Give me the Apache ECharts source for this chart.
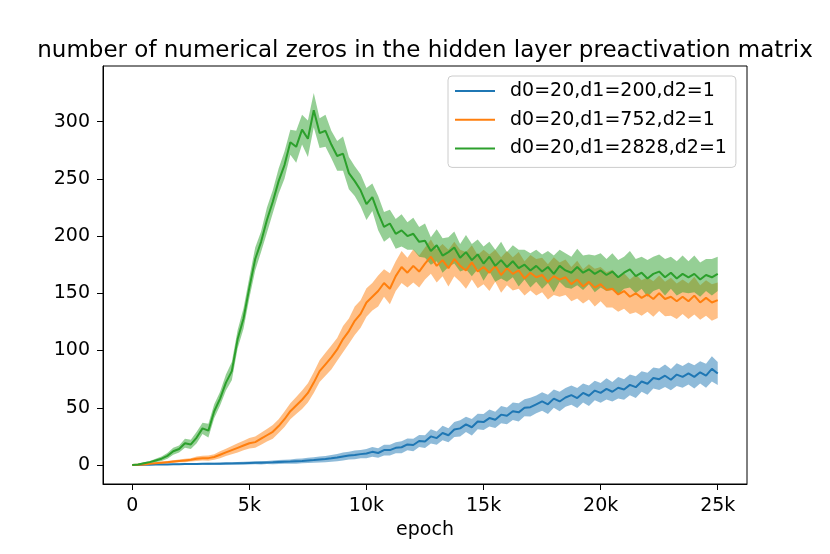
<!DOCTYPE html>
<html>
<head>
<meta charset="utf-8">
<title>number of numerical zeros</title>
<script src="https://cdn.jsdelivr.net/npm/echarts@6/dist/echarts.min.js"></script>
<style>
html, body { margin: 0; padding: 0; background: #fff; }
#chart { width: 830px; height: 554px; }
</style>
</head>
<body>
<div id="chart"></div>
<script>
// one logged value every 250 epochs, 0 .. 25k (101 points per run)
var epochStep = 250;
var runNames = ['d0=20,d1=200,d2=1', 'd0=20,d1=752,d2=1', 'd0=20,d1=2828,d2=1'];
var runColors = ['#1f77b4', '#ff7f0e', '#2ca02c'];
var xTicks = [0, 5000, 10000, 15000, 20000, 25000];
var yTicks = [0, 50, 100, 150, 200, 250, 300];

// d1=200 (blue)
var meanD200 = [
  0, 0, 0.2, 0.3, 0.4,
  0.5, 0.5, 0.6, 0.7, 0.8,
  0.8, 0.9, 1, 1, 1.1,
  1.2, 1.3, 1.4, 1.5, 1.6,
  1.8, 1.9, 2, 2.2, 2.3,
  2.6, 2.8, 3, 3.3, 3.6,
  4, 4.3, 4.8, 5.2, 5.8,
  6.5, 7.5, 8.2, 8.8, 9.5,
  10, 11.5, 10.5, 13, 13,
  15, 15.5, 18, 17.5, 21,
  20.5, 25, 23.5, 28, 26,
  31, 32, 35.5, 33, 38,
  37.5, 41, 39.5, 44, 43,
  47, 46, 50, 50.5, 53,
  55.5, 53, 58, 55.5, 59,
  61, 58.5, 63, 60.5, 65,
  63, 66.5, 64, 67.5, 66,
  70, 68, 73, 71, 76,
  75, 78, 74.5, 79, 77,
  80, 77, 81, 78, 84,
  80
];
var spreadD200 = [
  0, 0.2, 0.3, 0.3, 0.4,
  0.5, 0.5, 0.6, 0.6, 0.7,
  0.7, 0.8, 0.8, 0.9, 0.9,
  1, 1.1, 1, 1.2, 1.2,
  1.3, 1.3, 1.5, 1.4, 1.6,
  1.7, 1.8, 1.9, 2.1, 2,
  2.3, 2.4, 2.6, 2.7, 3,
  3.2, 3.5, 3.3, 3.8, 3.7,
  4, 4.3, 4.1, 4.6, 4.8,
  4.8, 5.2, 5.1, 5.5, 5.3,
  5.6, 6.2, 5.8, 6.4, 6.2,
  6.5, 7, 6.6, 7.2, 6.8,
  7, 7.4, 7.1, 7.6, 7.3,
  7.6, 8, 7.5, 8.2, 7.8,
  8, 8.4, 7.9, 8.5, 8.2,
  8.4, 8.8, 8.3, 9, 8.5,
  8.7, 9.2, 8.6, 9.3, 8.9,
  9, 9.5, 9, 9.6, 9.2,
  9.4, 9.8, 9.3, 10, 9.5,
  9.6, 10.2, 9.7, 10.4, 11,
  10
];

// d1=752 (orange)
var meanD752 = [
  0, 0.3, 0.5, 1, 1.5,
  2, 2.5, 3, 3.5, 4,
  4.5, 5.5, 6, 6, 7,
  9, 11, 13, 15, 17,
  19, 20, 23, 26, 29,
  34, 40, 47, 52, 57,
  63, 72, 82, 88, 94,
  101, 110, 117, 126, 132,
  142, 147, 152, 159, 154,
  165, 173, 168, 174, 169,
  176, 182, 174, 179, 172,
  180, 174, 170, 177, 169,
  173, 168, 174, 166, 172,
  167, 170, 163, 168, 164,
  166, 160, 165, 162, 164,
  158, 162, 156, 160, 155,
  158, 153, 154, 149, 152,
  147, 150, 146, 149, 145,
  150, 145, 147, 143, 147,
  143, 148, 142, 146, 142,
  144
];
var spreadD752 = [
  0, 0.3, 0.5, 0.6, 0.8,
  1, 1, 1.2, 1.2, 1.5,
  1.5, 2, 2, 2.2, 2.5,
  3, 3.2, 3.5, 4, 4.2,
  4.5, 5, 5.2, 5.5, 6,
  6, 6.8, 7, 7.5, 8,
  8.5, 9, 9.5, 10, 10.5,
  10, 11.5, 11, 12.5, 12,
  12.5, 12, 13.5, 12, 13.5,
  13, 14, 13, 14.5, 14,
  14, 15, 14.5, 14, 16,
  15, 14, 16, 15, 14.5,
  15, 16, 14, 15.5, 15,
  14.5, 16, 15, 15.5, 16,
  15, 15.5, 16.5, 15, 15.5,
  15, 16.5, 15, 15.5, 16.5,
  15, 15.5, 16.5, 15, 15.5,
  15, 16.5, 15.5, 15, 15.5,
  15.5, 15, 16.5, 15.5, 15,
  15.5, 16.5, 15, 15.5, 16,
  15.5
];

// d1=2828 (green)
var meanD2828 = [
  0, 0.5, 1.5, 2.5, 4,
  5.5, 8, 12, 14, 19,
  18, 24, 32, 30, 47,
  58, 72, 82, 110, 128,
  155, 180, 195, 214, 230,
  248, 262, 282, 278, 293,
  285, 310, 290, 292, 280,
  270, 272, 255, 248, 240,
  228, 234, 220, 208, 211,
  202, 205, 200, 202, 195,
  196, 187, 192, 183, 186,
  190, 181, 186, 179, 184,
  176, 182, 174, 179, 173,
  178, 172, 175, 170, 174,
  169, 173, 167, 174, 170,
  168, 173, 168, 171, 167,
  170, 166, 169, 164, 168,
  171, 165, 168, 163, 167,
  169, 164, 168, 163, 167,
  164, 167, 162, 166, 164,
  167
];
var spreadD2828 = [
  0, 0.5, 1, 1, 1.5,
  2, 2.5, 3, 3, 4,
  4, 5, 5, 6, 6,
  6, 7, 8, 8, 9,
  9, 10, 9, 11, 10,
  11, 12, 11, 14, 13,
  16, 15, 13, 14, 12,
  13, 15, 14, 13, 14,
  14, 12, 15, 13, 12,
  13, 14, 12, 14, 13,
  15, 12, 14, 15, 13,
  14, 12, 15, 14, 13,
  15, 13, 14, 16, 13,
  14, 16, 13, 15, 14,
  15, 14, 16, 14, 15,
  14, 16, 15, 13, 16,
  15, 14, 16, 15, 14,
  16, 15, 14, 16, 15,
  15, 16, 14, 15, 16,
  14, 16, 15, 14, 16,
  15
];

var runMeans = [meanD200, meanD752, meanD2828];
var runSpreads = [spreadD200, spreadD752, spreadD2828];

function kLabel(v) {
  return v === 0 ? '0' : (v / 1000) + 'k';
}

var series = [];
// bands (drawn below every line, like matplotlib's fill_between)
runMeans.forEach(function (mean, k) {
  var spread = runSpreads[k];
  var band = mean.map(function (m, i) { return [i * epochStep, m - spread[i], m + spread[i]]; });
  series.push({
    name: 'band' + k, type: 'custom', silent: true, z: 1,
    data: band,
    encode: { x: 0, y: [1, 2] },
    renderItem: function (params, api) {
      if (params.dataIndex !== 0) return null;
      var pts = [];
      for (var i = 0; i < band.length; i++) pts.push(api.coord([band[i][0], band[i][2]]));
      for (var j = band.length - 1; j >= 0; j--) pts.push(api.coord([band[j][0], band[j][1]]));
      return {
        type: 'polygon',
        shape: { points: pts },
        style: { fill: runColors[k], opacity: 0.5 }
      };
    }
  });
});
// mean lines
runMeans.forEach(function (mean, k) {
  series.push({
    name: runNames[k], type: 'line', z: 2,
    data: mean.map(function (m, i) { return [i * epochStep, m]; }),
    symbol: 'none',
    color: runColors[k],
    itemStyle: { color: runColors[k] },
    lineStyle: { color: runColors[k], width: 2 }
  });
});

var chart = echarts.init(document.getElementById('chart'));
chart.setOption({
  animation: false,
  textStyle: { fontFamily: 'DejaVu Sans' },
  title: {
    text: 'number of numerical zeros in the hidden layer preactivation matrix',
    left: 420, top: 35, textAlign: 'center',
    textStyle: { fontSize: 23, fontWeight: 'normal', color: '#000', fontFamily: 'DejaVu Sans' }
  },
  legend: {
    data: runNames,
    orient: 'vertical',
    left: 448, top: 76,
    padding: [4, 9, 8, 7],
    itemWidth: 40, itemHeight: 2, itemGap: 6.7,
    icon: 'rect',
    borderColor: '#cccccc', borderWidth: 1, borderRadius: 4,
    backgroundColor: 'rgba(255,255,255,0.8)',
    itemStyle: { borderWidth: 0 },
    textStyle: { fontSize: 19, color: '#000', lineHeight: 22, padding: [0, 0, 0, 10], fontFamily: 'DejaVu Sans' }
  },
  grid: {
    left: 103, right: 83, top: 66, bottom: 70,
    show: true, borderColor: '#000', borderWidth: 1, backgroundColor: 'transparent'
  },
  xAxis: {
    type: 'value',
    min: -1250, max: 26250,
    name: 'epoch', nameLocation: 'middle', nameGap: 37,
    nameTextStyle: { fontSize: 19, color: '#000' },
    splitLine: { show: false },
    axisLine: { show: true, onZero: false, lineStyle: { color: '#000', width: 1 } },
    axisTick: { show: true, length: 6, customValues: xTicks, lineStyle: { color: '#000' } },
    axisLabel: { fontSize: 19, color: '#000', margin: 13, customValues: xTicks, formatter: kLabel }
  },
  yAxis: {
    type: 'value',
    min: -16.6, max: 348.6,
    splitLine: { show: false },
    axisLine: { show: true, onZero: false, lineStyle: { color: '#000', width: 1 } },
    axisTick: { show: true, length: 6, customValues: yTicks, lineStyle: { color: '#000' } },
    axisLabel: { fontSize: 19, color: '#000', margin: 13, customValues: yTicks }
  },
  series: series
});
window.onresize = chart.resize;
</script>
</body>
</html>
